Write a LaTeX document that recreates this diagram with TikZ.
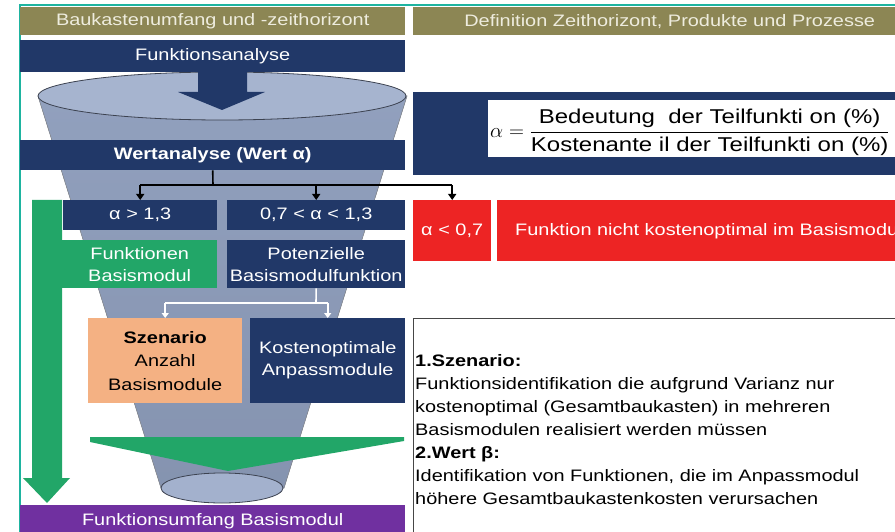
\documentclass[tikz,border=0pt]{standalone}
\usepackage{fontspec}
\setmainfont{Liberation Sans}[FakeStretch=1.2]
\usetikzlibrary{arrows.meta}
\definecolor{hdrolive}{RGB}{140,134,84}
\definecolor{hdrtext}{RGB}{238,236,222}
\definecolor{navy}{RGB}{33,56,104}
\definecolor{fungray}{RGB}{140,155,185}
\definecolor{funlight}{RGB}{166,180,207}
\definecolor{funedge}{RGB}{60,66,80}
\definecolor{grn}{RGB}{34,166,104}
\definecolor{redbox}{RGB}{237,36,36}
\definecolor{peach}{RGB}{244,177,131}
\definecolor{purp}{RGB}{112,48,160}
\definecolor{frame}{RGB}{30,180,160}
\definecolor{txtgray}{RGB}{70,70,70}
\begin{document}
\begin{tikzpicture}[x=1pt,y=-1pt,
  box/.style={inner sep=0pt, anchor=north west, align=center, text=white,
    font=\fontsize{16.6}{22}\selectfont},
  hdr/.style={box, fill=hdrolive, text=hdrtext, minimum height=28pt},
  bar/.style={box, fill=navy},
  blk/.style={draw=black, line width=1.6pt},
  blkarrow/.style={blk, -{Triangle[width=8pt,length=6pt]}},
  wht/.style={draw=white, line width=1.6pt},
  whtarrow/.style={wht, -{Triangle[width=7pt,length=5pt]}}]
\useasboundingbox (0,0) rectangle (895,532);
\begin{scope}
\clip (0,0) rectangle (895,532);
% frame lines
\draw[frame, line width=1.5pt] (20,532) -- (20,5) -- (895,5);
% headers
\node[hdr, minimum width=385pt] (hl) at (20,7) {Baukastenumfang und -zeithorizont};
\node[hdr, minimum width=513pt] (hr) at (413,7) {Definition Zeithorizont, Produkte und Prozesse};
% funnel
\fill[top color=fungray!80!funlight, bottom color=fungray!95!black, draw=funedge!60, line width=0.6pt]
  (38,96) -- (161,488) -- (284,488) -- (407,96) -- cycle;
\filldraw[fill=funlight!90!fungray, draw=funedge, line width=0.8pt] (222,488) ellipse [x radius=61, y radius=15];
\filldraw[fill=funlight, draw=funedge, line width=0.8pt] (222,96) ellipse [x radius=184, y radius=24];
\fill[navy] (198,72) -- (247,72) -- (247,92) -- (265,92) -- (222,110) -- (178,92) -- (198,92) -- cycle;
% left bars
\node[bar, minimum width=385pt, minimum height=32pt] (fa) at (20,40) {Funktionsanalyse};
\node[bar, minimum width=385pt, minimum height=30pt, font=\fontsize{16.6}{22}\selectfont\bfseries] (wert) at (20,140) {Wertanalyse (Wert α)};
% formula
\fill[navy] (413,92) rectangle (900,175);
\node[fill=white, inner sep=0pt, anchor=north west, minimum width=420pt, minimum height=57pt] (fbox) at (488,100) {};
\node[inner sep=0pt, anchor=west, font=\fontsize{20}{24}\selectfont] (formula) at (490,132)
  {$\displaystyle \alpha = \frac{\mbox{Bedeutung\ \ der Teilfunkti on (\%)}}{\mbox{Kostenante il der Teilfunkti on (\%)}}$};
% green vertical arrow
\fill[grn] (32,200) -- (62,200) -- (62,478) -- (70,478) -- (47,503) -- (23,478) -- (32,478) -- cycle;
% alpha boxes
\node[bar, minimum width=154pt, minimum height=30pt] (a1) at (63,200) {α > 1,3};
\node[bar, minimum width=178pt, minimum height=30pt] (a2) at (227,200) {0,7 < α < 1,3};
\node[box, fill=redbox, minimum width=78pt, minimum height=61pt] (a3) at (413,200) {α < 0,7};
\fill[redbox] (497,200) rectangle (900,261);
\node[inner sep=0pt, anchor=west, text=white, font=\fontsize{16.6}{22}\selectfont] (nk) at (515,231) {Funktion nicht kostenoptimal im Basismodul};
% second row
\node[box, fill=grn, minimum width=155pt, minimum height=48pt] (fb) at (62,240) {Funktionen\\Basismodul};
\node[bar, minimum width=178pt, minimum height=48pt] (pot) at (227,240) {Potenzielle\\Basismodulfunktion};
% third row
\node[box, fill=peach, text=black, minimum width=154pt, minimum height=85pt, font=\fontsize{16.6}{23.5}\selectfont] (szen) at (88,318) {\textbf{Szenario}\\Anzahl\\Basismodule};
\node[bar, minimum width=155pt, minimum height=85pt] (kost) at (250,318) {Kostenoptimale\\Anpassmodule};
% green horizontal arrow
\fill[grn] (90,437) -- (404,437) -- (404,441) -- (228,471) -- (90,442) -- cycle;
% purple bar
\node[box, fill=purp, minimum width=385pt, minimum height=32pt] (fu) at (20,505) {Funktionsumfang Basismodul};
% text box
\node[draw=txtgray, fill=white, line width=1.2pt, inner sep=0pt, anchor=north west, minimum width=500pt, minimum height=240pt] (tb) at (413,318) {};
\node[inner sep=0pt, anchor=north west, align=left, text=black, font=\fontsize{16.6}{23}\selectfont] (tt) at (415,354)
  {\textbf{1.Szenario:}\\
   Funktionsidentifikation die aufgrund Varianz nur\\
   kostenoptimal (Gesamtbaukasten) in mehreren\\
   Basismodulen realisiert werden müssen\\
   \textbf{2.Wert β:}\\
   Identifikation von Funktionen, die im Anpassmodul\\
   höhere Gesamtbaukastenkosten verursachen};
% black connectors
\coordinate (jb) at (213,185);
\draw[blk] (wert.south) -- (jb);
\draw[blk] (jb -| a1.north) -- (jb -| a3.north);
\draw[blkarrow] (jb -| a1.north) -- (a1.north);
\draw[blkarrow] (jb -| a2.north) -- (a2.north);
\draw[blkarrow] (jb -| a3.north) -- (a3.north);
% white connectors
\coordinate (jw) at (316,303);
\draw[wht] (pot.south) -- (jw);
\draw[wht] (jw -| szen.north) -- (jw -| kost.north);
\draw[whtarrow] (jw -| szen.north) -- (szen.north);
\draw[whtarrow] (jw -| kost.north) -- (kost.north);
\end{scope}
\end{tikzpicture}
\end{document}
